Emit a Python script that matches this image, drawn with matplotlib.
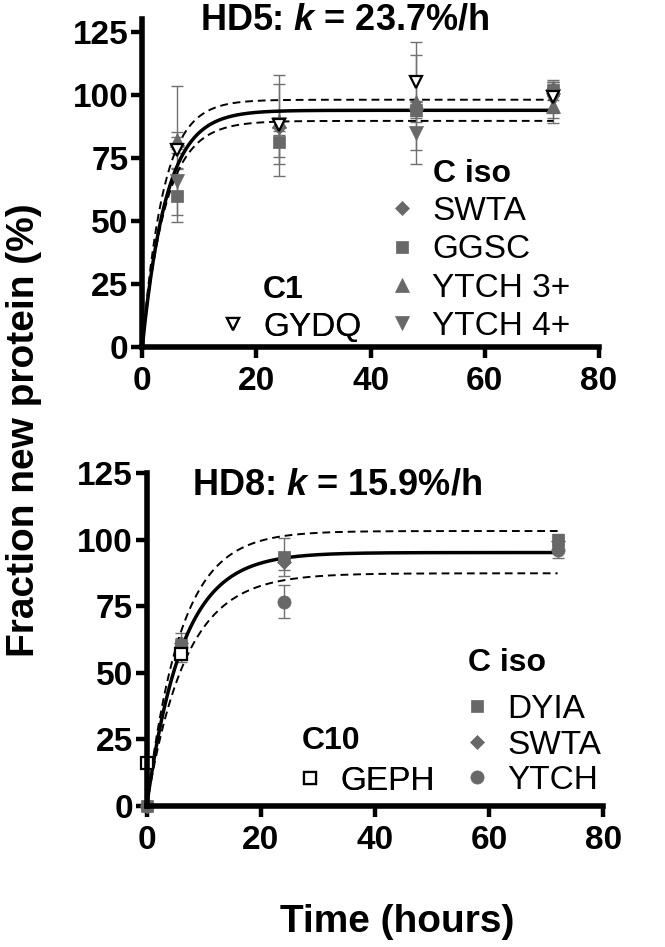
# Importa as bibliotecas necessárias
import numpy as np
import matplotlib
matplotlib.use("Agg")
import matplotlib.pyplot as plt

plt.rcParams['font.family'] = ['Liberation Sans', 'DejaVu Sans']
plt.rcParams['mathtext.fontset'] = 'custom'
plt.rcParams['mathtext.it'] = 'Liberation Sans:italic:bold'
plt.rcParams['mathtext.rm'] = 'Liberation Sans:bold'

# Dados do painel HD5 (tempos em horas, fração nova em %)
tempos_hd5 = [6, 24, 48, 72]
hd5_swta = [80, 87.3, 94.6, 102.5]
hd5_swta_err = [3.2, 3, 3, 2.5]
hd5_ggsc = [60, 81.5, 94, 102]
hd5_ggsc_err = [10.5, 6, 3, 4]
hd5_ytch3 = [82, 89.5, 97, 95.5]
hd5_ytch3_err = [3.4, 4, 19, 6.5]
hd5_ytch4 = [66, 88.5, 85, 98]
hd5_ytch4_err = [5, 16, 12.3, 7]
hd5_gydq = [78, 88, 105.2, 99]
hd5_gydq_err = [25.7, 20, 15.8, 6]

# Ajuste do HD5: (platô, k) da curva e das bandas de confiança
hd5_ajuste = (93.9, 0.237)
hd5_banda_sup = (98.1, 0.27)
hd5_banda_inf = (89.7, 0.24)

# Dados do painel HD8
tempos_hd8 = [0, 6, 24, 72]
hd8_dyia = [0, 60.4, 93.5, 100]
hd8_dyia_err = [0, 4.4, 7, 2]
hd8_swta = [0, 61, 91.8, 99.5]
hd8_swta_err = [0, 2, 3, 1.5]
hd8_ytch = [0, 59.8, 76.7, 96.2]
hd8_ytch_err = [0, 2, 6.2, 3]
tempos_geph = [0, 6]
hd8_geph = [16, 57]
hd8_geph_err = [1, 3]

hd8_ajuste = (95.2, 0.159)
hd8_banda_sup = (103.3, 0.167)
hd8_banda_inf = (87.4, 0.146)

CINZA = '#686868'
LARG, ALT = 665, 947


def px(x, y):
    # converte pixels da figura para fração da figura
    return (x / LARG, 1 - y / ALT)


def curva(params, t):
    plato, k = params
    return plato * (1 - np.exp(-k * t))


def serie(ax, tempos, valores, erros, marcador, tam, aberto=False, rotulo=None):
    ax.errorbar(tempos, valores, yerr=erros, fmt='none', ecolor='#707070',
                elinewidth=1, capsize=4.5, capthick=1, zorder=2, clip_on=False)
    if aberto:
        cor, borda = 'white', 'black'
    else:
        cor, borda = CINZA, CINZA
    linha, = ax.plot(tempos, valores, linestyle='none', marker=marcador, markersize=tam,
                     markerfacecolor=cor, markeredgecolor=borda, markeredgewidth=1.6 if aberto else 0.5,
                     zorder=4, clip_on=False, label=rotulo)
    return linha


def estilo_eixos(ax, ytopo):
    ax.set_xlim(0, 80)
    ax.set_ylim(0, ytopo)
    ax.set_xticks([0, 20, 40, 60, 80])
    ax.set_yticks([0, 25, 50, 75, 100, 125])
    for lado in ['top', 'right']:
        ax.spines[lado].set_visible(False)
    for lado in ['left', 'bottom']:
        ax.spines[lado].set_linewidth(4)
        ax.spines[lado].set_capstyle('projecting')
        ax.spines[lado].set_zorder(6)
    ax.tick_params(direction='out', length=8, width=3.2, labelsize=24, pad=2)
    ax.tick_params(axis='x', pad=6)
    for rotulo in ax.get_xticklabels() + ax.get_yticklabels():
        rotulo.set_fontweight('bold')


def ajuste(ax, principal, sup, inf):
    t = np.linspace(0, 72, 300)
    ax.plot(t, curva(principal, t), color='black', lw=2.5, zorder=3, clip_on=False)
    ax.plot(t, curva(sup, t), color='black', lw=1.4, ls=(0, (4, 2.5)), zorder=3, clip_on=False)
    ax.plot(t, curva(inf, t), color='black', lw=1.4, ls=(0, (4, 2.5)), zorder=3, clip_on=False)


def legenda(ax, fig, handles, x_marcador, y_centro, espaco):
    inicio = x_marcador - 0.8 * 24 / 72 * 100 / 2
    leg = ax.legend(handles=handles, loc='center left', bbox_to_anchor=px(inicio, y_centro),
                    bbox_transform=fig.transFigure, frameon=False, prop={'size': 24},
                    handlelength=0.8, handletextpad=0.5, labelspacing=espaco,
                    borderpad=0, borderaxespad=0)
    ax.add_artist(leg)


fig = plt.figure(figsize=(6.65, 9.47), dpi=100)
ax1 = fig.add_axes([0.214, 0.6336, 0.6868, 0.346])
ax2 = fig.add_axes([0.2206, 0.1492, 0.6866, 0.351])

# Painel HD5
ajuste(ax1, hd5_ajuste, hd5_banda_sup, hd5_banda_inf)
h_swta = serie(ax1, tempos_hd5, hd5_swta, hd5_swta_err, 'D', 7.5, rotulo='SWTA')
h_ggsc = serie(ax1, tempos_hd5, hd5_ggsc, hd5_ggsc_err, 's', 8.5, rotulo='GGSC')
h_y3 = serie(ax1, tempos_hd5, hd5_ytch3, hd5_ytch3_err, '^', 10, rotulo='YTCH 3+')
h_y4 = serie(ax1, tempos_hd5, hd5_ytch4, hd5_ytch4_err, 'v', 10, rotulo='YTCH 4+')
h_gydq = serie(ax1, tempos_hd5, hd5_gydq, hd5_gydq_err, 'v', 9, aberto=True, rotulo='GYDQ')
estilo_eixos(ax1, 130)
ax1.text(35.5, 129.6, r'HD5: $k$ = 23.7%/h', ha='center', va='center', fontsize=26,
         fontweight='bold', clip_on=False)
legenda(ax1, fig, [h_swta, h_ggsc, h_y3, h_y4], 402, 269, 0.22)
legenda(ax1, fig, [h_gydq], 233, 327, 0.0)
fig.text(*px(433, 174), 'C iso', ha='left', va='center', fontsize=23, fontweight='bold')
fig.text(*px(263, 290), 'C1', ha='left', va='center', fontsize=23, fontweight='bold')

# Painel HD8
ajuste(ax2, hd8_ajuste, hd8_banda_sup, hd8_banda_inf)
h_dyia = serie(ax2, tempos_hd8, hd8_dyia, hd8_dyia_err, 's', 8.5, rotulo='DYIA')
h_swta2 = serie(ax2, tempos_hd8, hd8_swta, hd8_swta_err, 'D', 7.5, rotulo='SWTA')
h_ytch = serie(ax2, tempos_hd8, hd8_ytch, hd8_ytch_err, 'o', 9.5, rotulo='YTCH')
h_geph = serie(ax2, tempos_geph, hd8_geph, hd8_geph_err, 's', 8.5, aberto=True, rotulo='GEPH')
estilo_eixos(ax2, 125)
ax2.text(33.3, 120.6, r'HD8: $k$ = 15.9%/h', ha='center', va='center', fontsize=26,
         fontweight='bold', clip_on=False)
legenda(ax2, fig, [h_dyia, h_swta2, h_ytch], 477, 745, 0.14)
legenda(ax2, fig, [h_geph], 310, 781, 0.0)
fig.text(*px(468, 663), 'C iso', ha='left', va='center', fontsize=23, fontweight='bold')
fig.text(*px(302, 741), 'C10', ha='left', va='center', fontsize=23, fontweight='bold')

# Rótulos dos eixos comuns
fig.text(*px(24, 430), 'Fraction new protein (%)', rotation=90, ha='center', va='center',
         fontsize=28, fontweight='bold')
fig.text(*px(397, 922), 'Time (hours)', ha='center', va='center', fontsize=28, fontweight='bold')

fig.savefig('out.png', dpi=100)
